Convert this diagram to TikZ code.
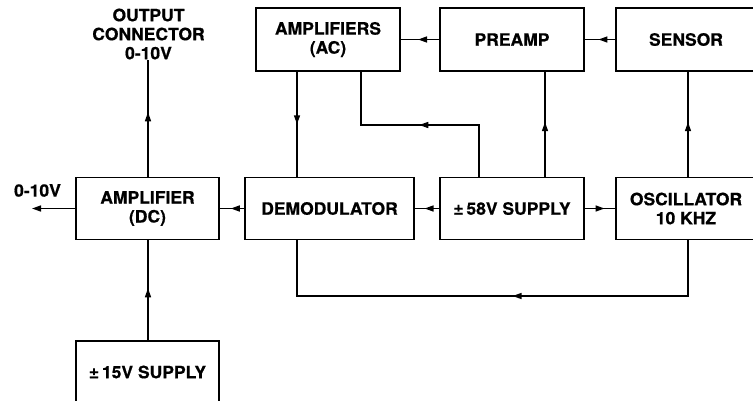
\documentclass[tikz,border=0pt]{standalone}
\usepackage{fontspec}
\setmainfont{TeX Gyre Heros}[FakeStretch=1.03]
\newfontfamily\blkfont{TeX Gyre Heros Bold}[FakeStretch=1.03,FakeBold=0.6]
\usetikzlibrary{arrows.meta,decorations.markings}
\tikzset{
  blk/.style={draw, line width=1.7pt, inner sep=0pt, align=center,
    font=\fontsize{17}{19}\blkfont},
  lbl/.style={inner sep=0pt, align=center, font=\fontsize{17}{19}\blkfont},
  conn/.style={line width=1.5pt},
  marr/.style={postaction={decorate}, decoration={markings,
    mark=at position #1 with {\arrow{Triangle[length=9pt,width=6pt]}}}}
}
\begin{document}
\begin{tikzpicture}[x=1pt,y=-1pt]
\useasboundingbox (0,0) rectangle (753,400);
% top row
\node[blk, minimum width=144pt, minimum height=63pt] (ac) at (328,39.5) {AMPLIFIERS\\(AC)};
\node[blk, minimum width=144pt, minimum height=63pt] (pre) at (512,39.5) {PREAMP};
\node[blk, minimum width=140pt, minimum height=63pt] (sen) at (686,39.5) {SENSOR};
% middle row
\node[blk, minimum width=143pt, minimum height=62pt] (ampdc) at (147.5,208.5) {AMPLIFIER\\(DC)};
\node[blk, minimum width=169pt, minimum height=62pt] (demod) at (329.5,208.5) {DEMODULATOR};
\node[blk, minimum width=144pt, minimum height=62pt] (sup) at (512,208.5) {±\,58V SUPPLY};
\node[blk, minimum width=140pt, minimum height=62pt] (osc) at (686,208.5) {OSCILLATOR\\10 KHZ};
% bottom
\node[blk, minimum width=143pt, minimum height=62pt] (sup15) at (147.5,372) {±\,15V SUPPLY};
% labels
\node[lbl] (outc) at (148.5,34) {OUTPUT\\CONNECTOR\\0-10V};
\node[lbl] (outl) at (37.5,190.5) {0-10V};
\coordinate (outend) at (32,208.5);
% helper coordinates
\coordinate (xa) at (297,0);
\coordinate (xb) at (361,0);
\coordinate (xc) at (479,0);
\coordinate (xd) at (545,0);
\coordinate (xe) at (688,0);
\coordinate (xf) at (148,0);
\coordinate (yl) at (0,125);
\coordinate (yb) at (0,296);
% connectors
\draw[conn, marr=0.55] (sen.west) -- (pre.east);
\draw[conn, marr=0.55] (pre.west) -- (ac.east);
\draw[conn, marr=0.5] (ac.south -| xa) -- (demod.north -| xa);
\draw[conn, marr=0.5] (sup.north -| xc) -- (xc |- yl) -- (xb |- yl) -- (ac.south -| xb);
\draw[conn, marr=0.52] (sup.north -| xd) -- (pre.south -| xd);
\draw[conn, marr=0.52] (osc.north -| xe) -- (sen.south -| xe);
\draw[conn, marr=0.6] (sup.west) -- (demod.east);
\draw[conn, marr=0.65] (sup.east) -- (osc.west);
\draw[conn, marr=0.46] (osc.south -| xe) -- (xe |- yb) -- (xa |- yb) -- (demod.south -| xa);
\draw[conn, marr=0.55] (demod.west) -- (ampdc.east);
\draw[conn, marr=0.55] (ampdc.north -| xf) -- (outc.south -| xf);
\draw[conn, marr=0.52] (sup15.north -| xf) -- (ampdc.south -| xf);
\draw[conn, -{Triangle[length=9pt,width=6pt]}] (ampdc.west) -- (outend);
\end{tikzpicture}
\end{document}
